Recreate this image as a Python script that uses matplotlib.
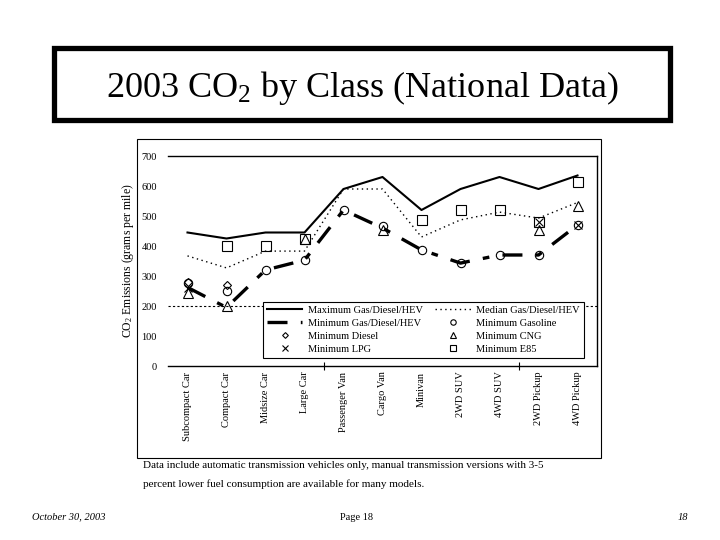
import numpy as np
import matplotlib
matplotlib.use("Agg")
import matplotlib.pyplot as plt
from matplotlib.patches import Rectangle

plt.rcParams['font.family'] = ['Liberation Serif', 'DejaVu Serif']
plt.rcParams['mathtext.fontset'] = 'custom'
plt.rcParams['mathtext.rm'] = 'Liberation Serif'
plt.rcParams['mathtext.it'] = 'Liberation Serif:italic'

# %% data (grams CO2 per mile)
classes = ["Subcompact Car", "Compact Car", "Midsize Car", "Large Car",
           "Passenger Van", "Cargo Van", "Minivan", "2WD SUV", "4WD SUV",
           "2WD Pickup", "4WD Pickup"]
max_gdh = [445, 425, 445, 445, 590, 630, 520, 590, 630, 590, 635]
median_gdh = [367, 327, 383, 383, 590, 590, 430, 487, 513, 493, 545]
min_gdh = [262, 195, 320, 353, 520, 460, 387, 343, 370, 370, 470]

gas_idx = [0, 1, 2, 3, 4, 5, 6, 7, 8, 9, 10]
gas_val = [277, 250, 320, 353, 520, 468, 387, 343, 370, 370, 470]
diesel_idx = [0, 1]
diesel_val = [280, 270]
cng_idx = [0, 1, 3, 5, 9, 10]
cng_val = [243, 200, 423, 455, 455, 535]
lpg_idx = [0, 9, 10]
lpg_val = [260, 480, 470]
e85_idx = [1, 2, 3, 6, 7, 8, 9, 10]
e85_val = [400, 400, 423, 487, 520, 520, 480, 613]

W, H = 720, 540
fig = plt.figure(figsize=(W / 100, H / 100), dpi=100)

# title box
fig.patches.append(Rectangle((54 / W, 1 - 120 / H), 616 / W, 72 / H,
                             transform=fig.transFigure, fill=False,
                             edgecolor='black', linewidth=3.8))
fig.text(362 / W, 1 - 88 / H, "2003 CO$_2$ by Class (National Data)",
         ha='center', va='center', fontsize=26)

# chart frame
fig.patches.append(Rectangle((137 / W, 1 - 458 / H), 464 / W, 319 / H,
                             transform=fig.transFigure, fill=False,
                             edgecolor='black', linewidth=0.8))

ax = fig.add_axes([168 / W, 1 - 366 / H, 429 / W, 210 / H])
x = np.arange(len(classes))

ax.axhline(200, color='black', linestyle=(0, (2, 2)), linewidth=0.8, zorder=1)
ax.plot(x, max_gdh, color='black', linewidth=1.5, label="Maximum Gas/Diesel/HEV")
ax.plot(x, min_gdh, color='black', linewidth=2.4, dashes=(6, 4, 2, 4),
        label="Minimum Gas/Diesel/HEV")
ax.plot(diesel_idx, diesel_val, linestyle='none', marker='D', markersize=4.5,
        mfc='none', mec='black', mew=0.8, label="Minimum Diesel")
ax.plot(lpg_idx, lpg_val, linestyle='none', marker='x', markersize=6,
        color='black', mew=0.8, label="Minimum LPG")
ax.plot(x, median_gdh, color='black', linestyle=(0, (1, 2.5)), linewidth=1.0,
        label="Median Gas/Diesel/HEV")
ax.plot(gas_idx, gas_val, linestyle='none', marker='o', markersize=6,
        mfc='none', mec='black', mew=0.8, label="Minimum Gasoline")
ax.plot(cng_idx, cng_val, linestyle='none', marker='^', markersize=7,
        mfc='none', mec='black', mew=0.8, label="Minimum CNG")
ax.plot(e85_idx, e85_val, linestyle='none', marker='s', markersize=7,
        mfc='none', mec='black', mew=0.8, label="Minimum E85")

ax.set_xlim(-0.5, len(classes) - 0.5)
ax.set_ylim(0, 700)
ax.set_yticks(np.arange(0, 701, 100))
ax.set_xticks(x)
ax.set_xticklabels(classes, rotation=90, va='top', ha='center')
ax.set_xticks([3.5, 8.5], minor=True)
ax.tick_params(axis='x', which='major', length=0, pad=4, labelsize=7.5)
ax.tick_params(axis='x', which='minor', length=6, direction='inout', width=0.8)
ax.tick_params(axis='y', length=0, pad=8, labelsize=7.5)
ax.spines['left'].set_visible(False)
for s in ['top', 'right', 'bottom']:
    ax.spines[s].set_linewidth(1.0)
ax.set_ylabel("CO$_2$ Emissions (grams per mile)", fontsize=8.5, labelpad=4)

leg = ax.legend(loc='lower left', bbox_to_anchor=(0.221, 0.038), ncol=2,
                frameon=True, fancybox=False, edgecolor='black',
                facecolor='white', framealpha=1, fontsize=7.5,
                handlelength=3.4, columnspacing=1.2, labelspacing=0.35,
                borderaxespad=0, borderpad=0.4, handletextpad=0.5,
                markerscale=0.65)
leg.get_frame().set_linewidth(0.8)
leg.set_zorder(5)

fig.text(143 / W, 1 - 466 / H,
         "Data include automatic transmission vehicles only, manual transmission versions with 3-5",
         fontsize=8, va='center')
fig.text(143 / W, 1 - 484 / H,
         "percent lower fuel consumption are available for many models.",
         fontsize=8, va='center')

fig.text(32 / W, 1 - 517 / H, "October 30, 2003", fontsize=7.5,
         style='italic', va='center')
fig.text(357 / W, 1 - 517 / H, "Page 18", fontsize=7.5, ha='center', va='center')
fig.text(688 / W, 1 - 517 / H, "18", fontsize=7.5, style='italic',
         ha='right', va='center')

fig.savefig("out.png", dpi=100)
